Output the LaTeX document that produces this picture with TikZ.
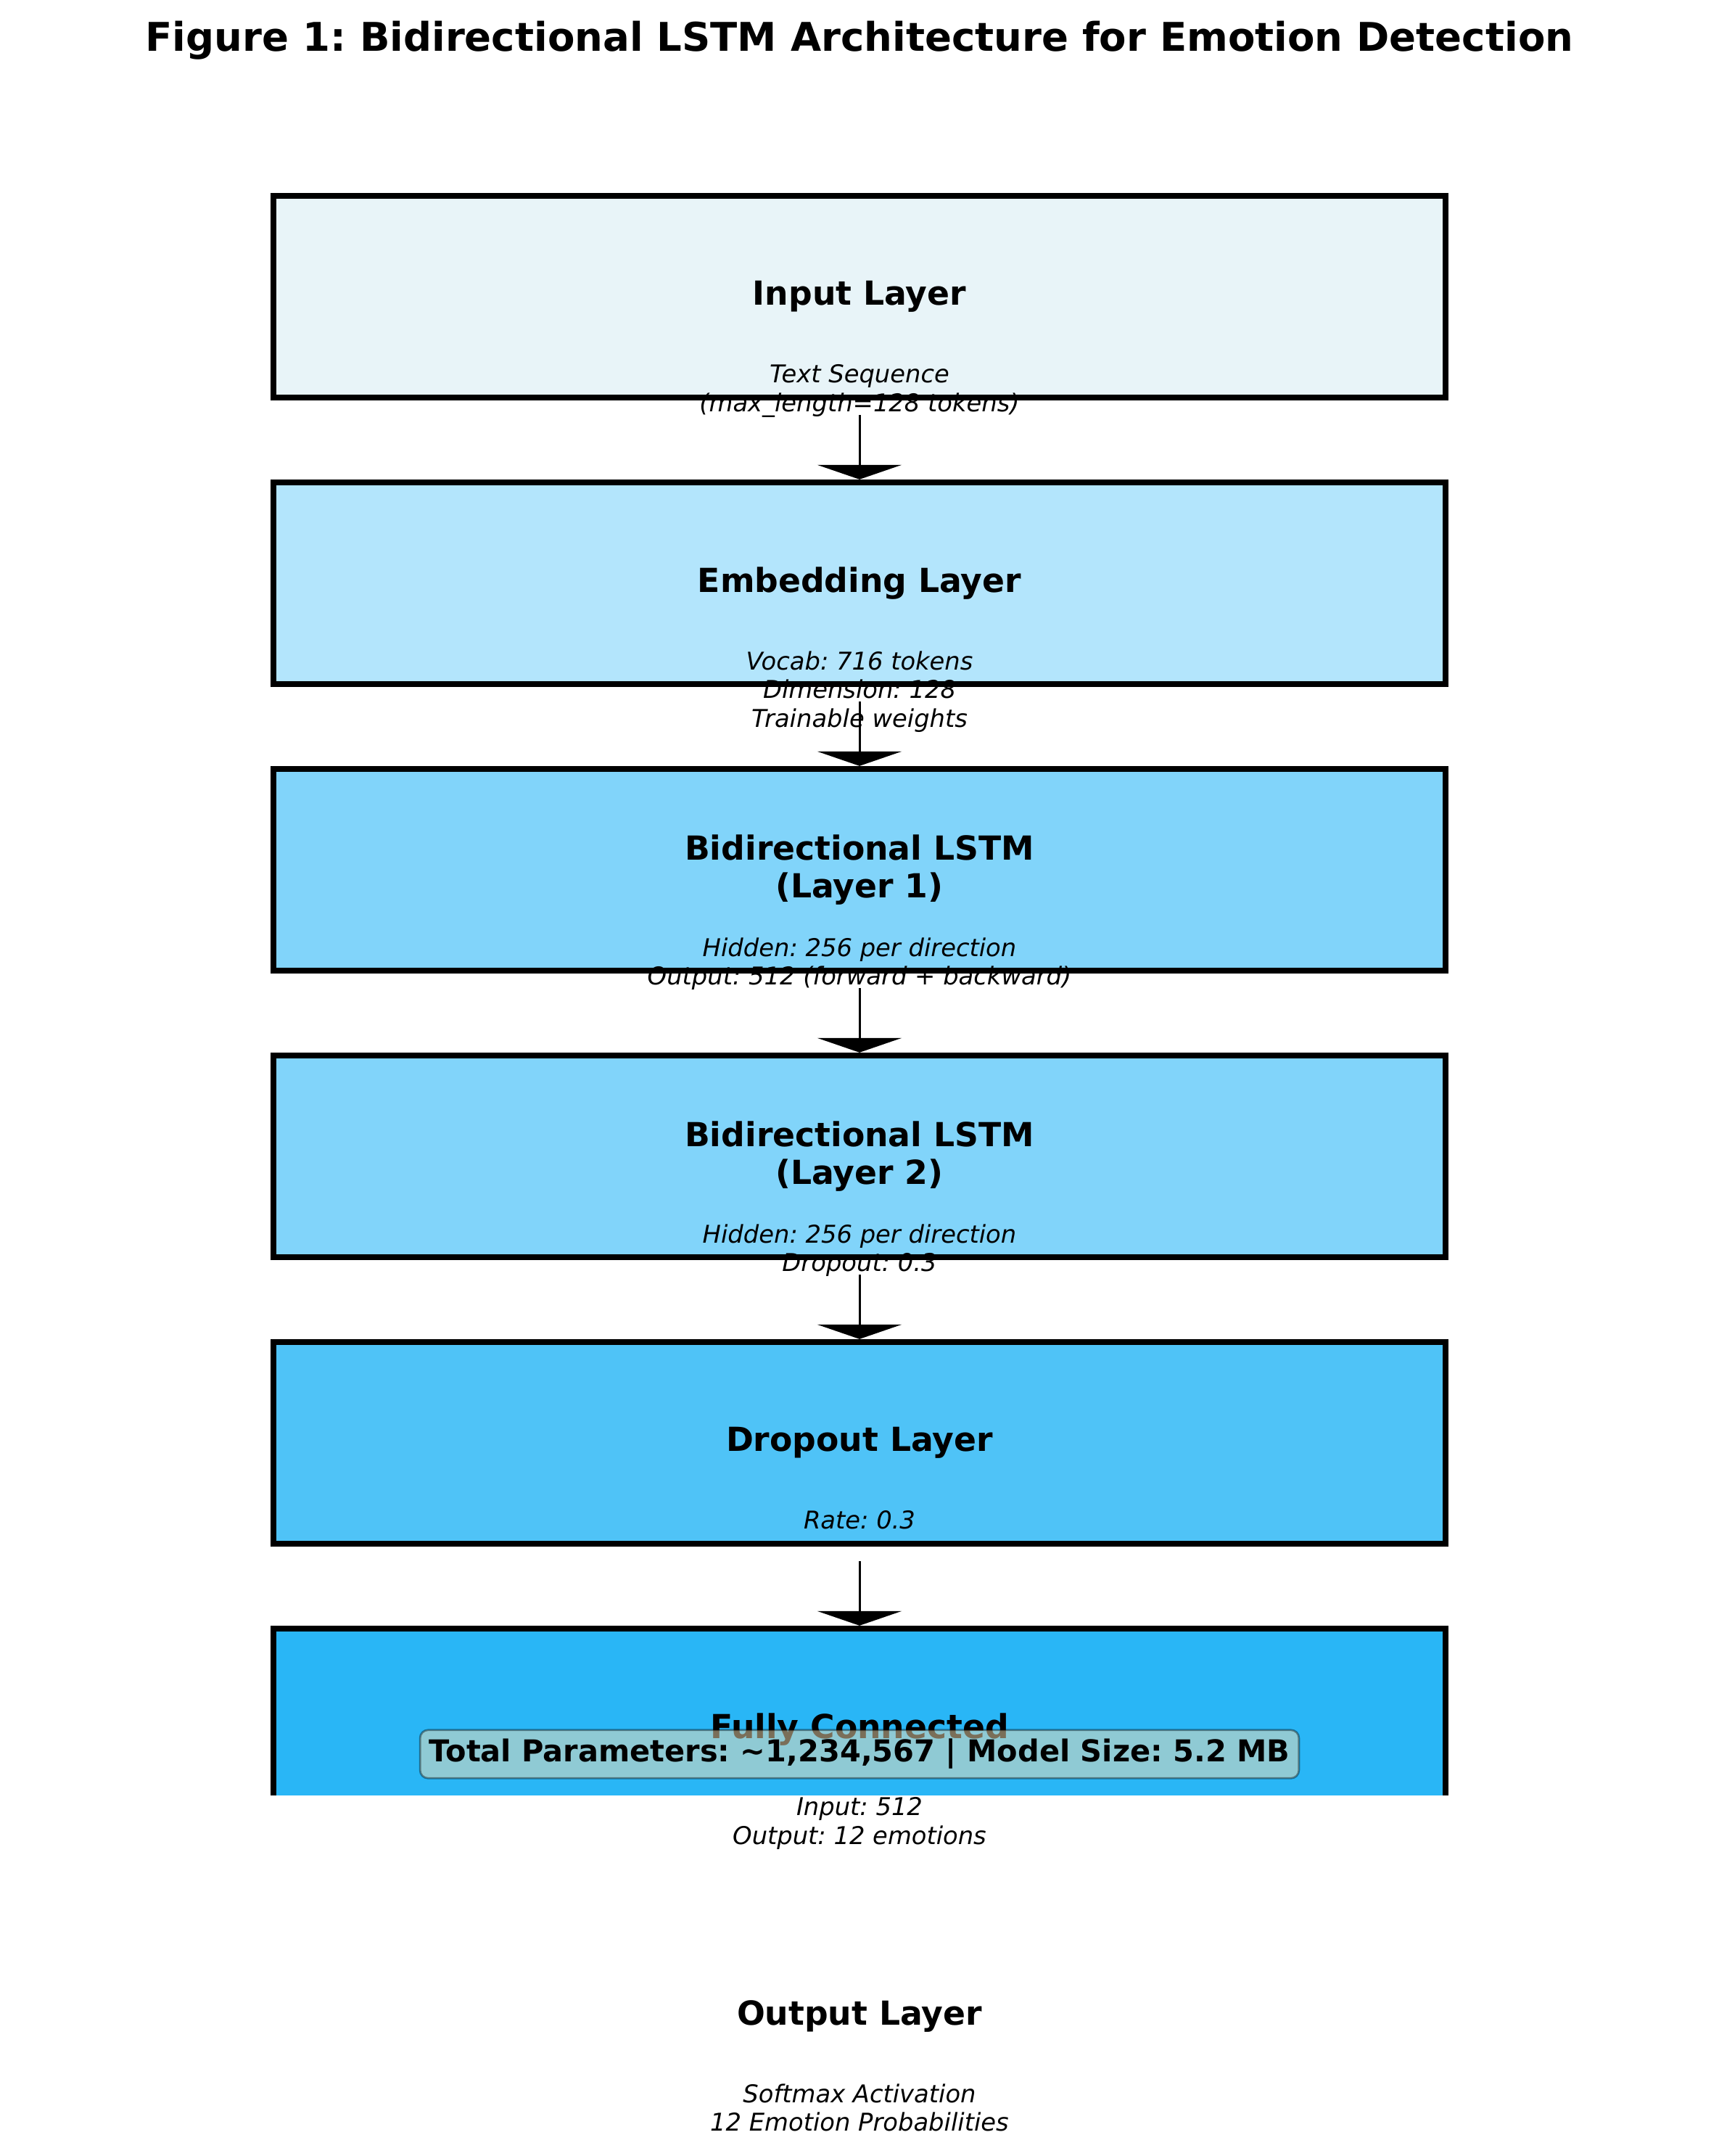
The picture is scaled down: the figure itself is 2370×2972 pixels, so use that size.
\documentclass[tikz,border=0pt]{standalone}
\usepackage{fontspec}
\setmainfont{DejaVu Sans}
\usetikzlibrary{arrows.meta}
\frenchspacing

\definecolor{inputcol}{HTML}{E8F4F8}
\definecolor{embedcol}{HTML}{B3E5FC}
\definecolor{lstmcol}{HTML}{81D4FA}
\definecolor{dropcol}{HTML}{4FC3F7}
\definecolor{densecol}{HTML}{29B6F6}
\definecolor{wheat}{HTML}{F5DEB3}

\tikzset{
  layerbox/.style={draw=black, line width=3bp, minimum width=581.76bp,
    minimum height=100.08bp, inner sep=0pt, align=center,
    font=\fontsize{16.5}{19.1}\selectfont\bfseries},
  layername/.style={inner sep=0pt, align=center,
    font=\fontsize{16.5}{19.1}\selectfont\bfseries},
  detail/.style={anchor=north, inner sep=0pt, align=center,
    font=\fontsize{12.2}{14.3}\selectfont\itshape},
  flow/.style={line width=1.08bp, shorten <=7.2bp,
    -{Triangle[width=41.8bp,length=7.2bp]}},
}

\begin{document}
\begin{tikzpicture}[x=0.36bp,y=-0.36bp]
        \useasboundingbox (0,0) rectangle (2370,2972);
        \node[anchor=base, inner sep=0pt, font=\fontsize{19.7}{23.6}\selectfont\bfseries] (title) at (1185,70)
          {Figure 1: Bidirectional LSTM Architecture for Emotion Detection};

        \begin{scope}
        \clip (0,0) rectangle (2370,2474); % Plot area cuts the last box.
        \node[layerbox, fill=inputcol] (input) at (1185,409) {Input Layer};
        \node[layerbox, fill=embedcol] (embed) at (1185,804) {Embedding Layer};
        \node[layerbox, fill=lstmcol] (lstma) at (1185,1199) {Bidirectional LSTM\\(Layer 1)};
        \node[layerbox, fill=lstmcol] (lstmb) at (1185,1594) {Bidirectional LSTM\\(Layer 2)};
        \node[layerbox, fill=dropcol] (drop) at (1185,1989) {Dropout Layer};
        \node[layerbox, fill=densecol] (dense) at (1185,2384) {Fully Connected};

        \draw[flow] (input.south) -- (embed.north);
        \draw[flow] (embed.south) -- (lstma.north);
        \draw[flow] (lstma.south) -- (lstmb.north);
        \draw[flow] (lstmb.south) -- (drop.north);
        \draw[flow] (drop.south) -- (dense.north);
        \end{scope}

        \node[layername] (output) at (1185,2779) {Output Layer};

        \node[detail] (inputtxt) at (1185,502) {Text Sequence\\(max\_length=128 tokens)};
        \node[detail] (embedtxt) at (1185,897) {Vocab: 716 tokens\\Dimension: 128\\Trainable weights};
        \node[detail] (lstmatxt) at (1185,1292) {Hidden: 256 per direction\\Output: 512 (forward + backward)};
        \node[detail] (lstmbtxt) at (1185,1687) {Hidden: 256 per direction\\Dropout: 0.3};
        \node[detail] (droptxt) at (1185,2082) {Rate: 0.3};
        \node[detail] (densetxt) at (1185,2477) {Input: 512\\Output: 12 emotions};
        \node[detail] (outputtxt) at (1185,2872) {Softmax Activation\\12 Emotion Probabilities};

        % Summary box over the dense layer.
        \node[fill=wheat, fill opacity=0.5, draw=black, draw opacity=0.4, text opacity=1,
          line width=1bp, rounded corners=4bp, inner xsep=4.5bp, inner ysep=4.5bp,
          font=\fontsize{15}{18}\selectfont\bfseries] (summary) at (1185,2418)
          {Total Parameters: \textasciitilde1,234,567 | Model Size: 5.2 MB};
      \end{tikzpicture}
\end{document}
